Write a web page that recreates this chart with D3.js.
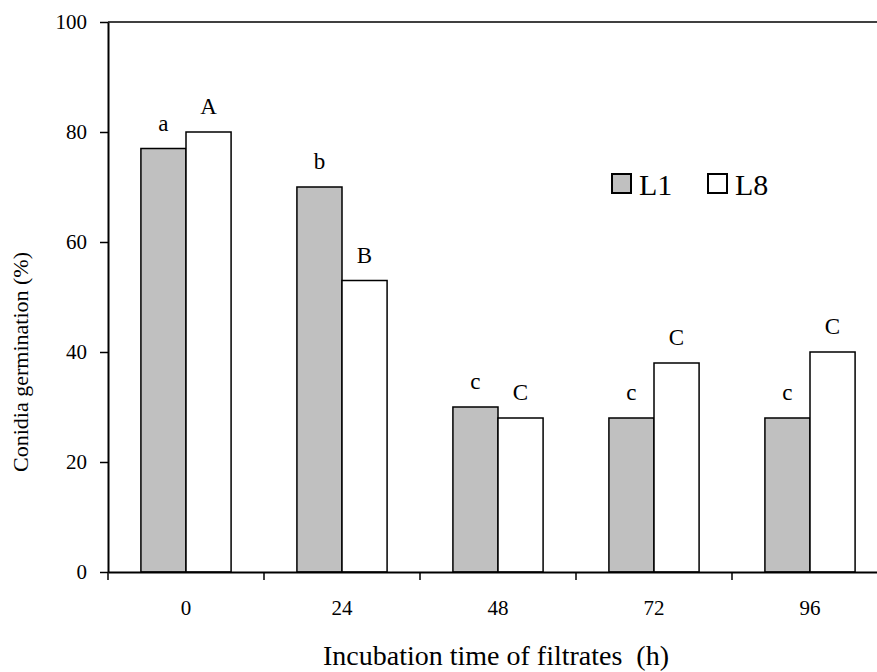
<!DOCTYPE html>
<html>
<head>
<meta charset="utf-8">
<script src="https://cdn.jsdelivr.net/npm/d3@7"></script>
<style>
  html, body { margin: 0; padding: 0; background: #fff; }
  svg, svg text { font-family: "Times New Roman", "Liberation Serif", Tinos, "DejaVu Serif", serif; }
</style>
</head>
<body>
<svg id="chart" width="877" height="672"></svg>
<script>
// Incubation times (h) on the x axis
const hours = ["0", "24", "48", "72", "96"];
const seriesNames = ["L1", "L8"];
// Conidia germination (%) for each filtrate
const l1Values = [77, 70, 30, 28, 28];
const l8Values = [80, 53, 28, 38, 40];
// Significance letters above the bars
const l1Letters = ["a", "b", "c", "c", "c"];
const l8Letters = ["A", "B", "C", "C", "C"];
const yTicks = [0, 20, 40, 60, 80, 100];

const serif = '"Times New Roman", "Liberation Serif", Tinos, "DejaVu Serif", serif';
const seriesFill = { L1: "#c0c0c0", L8: "#ffffff" };

const rows = hours.map((h, i) => ({
  hour: h,
  bars: [
    { key: "L1", value: l1Values[i], letter: l1Letters[i] },
    { key: "L8", value: l8Values[i], letter: l8Letters[i] }
  ]
}));

const svg = d3.select("#chart");

const plotLeft = 108, plotRight = 888, plotTop = 22, plotBottom = 572;

const y = d3.scaleLinear().domain([0, 100]).range([plotBottom, plotTop]);
const x0 = d3.scaleBand().domain(hours).range([plotLeft, plotRight]).padding(0);
const x1 = d3.scaleBand().domain(seriesNames).range([0, x0.bandwidth()])
  .paddingInner(0).paddingOuter(0.73);

// Top frame line
svg.append("line")
  .attr("x1", plotLeft).attr("x2", plotRight)
  .attr("y1", plotTop).attr("y2", plotTop)
  .attr("stroke", "#000").attr("stroke-width", 1.5);

// Bars
const groups = svg.append("g").selectAll("g")
  .data(rows).join("g")
  .attr("transform", d => `translate(${x0(d.hour)},0)`);

groups.selectAll("rect")
  .data(d => d.bars).join("rect")
  .attr("x", d => x1(d.key))
  .attr("y", d => y(d.value))
  .attr("width", x1.bandwidth())
  .attr("height", d => y(0) - y(d.value))
  .attr("fill", d => seriesFill[d.key])
  .attr("stroke", "#000")
  .attr("stroke-width", 1.5);

groups.selectAll("text")
  .data(d => d.bars).join("text")
  .attr("x", d => x1(d.key) + x1.bandwidth() / 2)
  .attr("y", d => y(d.value) - 18)
  .attr("text-anchor", "middle")
  .attr("font-family", serif)
  .attr("font-size", 23)
  .attr("fill", "#000")
  .text(d => d.letter);

// Y axis
const yAxis = svg.append("g")
  .attr("transform", `translate(${plotLeft},0)`)
  .call(d3.axisLeft(y).tickValues(yTicks).tickSize(8).tickSizeOuter(0).tickPadding(13));
yAxis.attr("font-family", serif);
yAxis.selectAll("text").attr("font-size", 21).attr("font-family", serif).attr("fill", "#000");
yAxis.selectAll("line").attr("stroke", "#000").attr("stroke-width", 1.5);
yAxis.select(".domain").attr("stroke", "#000").attr("stroke-width", 2);

// X axis: category labels at band centres, ticks at band boundaries
const xAxis = svg.append("g")
  .attr("transform", `translate(0,${plotBottom})`)
  .call(d3.axisBottom(x0).tickSize(0).tickPadding(28));
xAxis.attr("font-family", serif);
xAxis.selectAll("text").attr("font-size", 21).attr("font-family", serif).attr("fill", "#000");
xAxis.select(".domain").attr("stroke", "#000").attr("stroke-width", 2);

svg.append("g").selectAll("line")
  .data(hours).join("line")
  .attr("x1", d => x0(d)).attr("x2", d => x0(d))
  .attr("y1", plotBottom).attr("y2", plotBottom + 8)
  .attr("stroke", "#000").attr("stroke-width", 1.5);

// Axis titles
svg.append("text")
  .attr("x", 496).attr("y", 665)
  .attr("text-anchor", "middle")
  .attr("font-family", serif)
  .attr("font-size", 28)
  .attr("fill", "#000")
  .style("white-space", "pre")
  .text("Incubation time of filtrates  (h)");

svg.append("text")
  .attr("transform", "translate(28,362) rotate(-90)")
  .attr("text-anchor", "middle")
  .attr("font-family", serif)
  .attr("font-size", 22)
  .attr("fill", "#000")
  .style("white-space", "pre")
  .text("Conidia germination (%)");

// Legend
const legend = svg.append("g");
const legendItems = [
  { key: "L1", x: 612 },
  { key: "L8", x: 708 }
];
legend.selectAll("rect")
  .data(legendItems).join("rect")
  .attr("x", d => d.x).attr("y", 174)
  .attr("width", 19).attr("height", 19)
  .attr("fill", d => seriesFill[d.key])
  .attr("stroke", "#000").attr("stroke-width", 2);
legend.selectAll("text")
  .data(legendItems).join("text")
  .attr("x", d => d.x + 27).attr("y", 195)
  .attr("font-family", serif)
  .attr("font-size", 30)
  .attr("fill", "#000")
  .text(d => d.key);
</script>
</body>
</html>
